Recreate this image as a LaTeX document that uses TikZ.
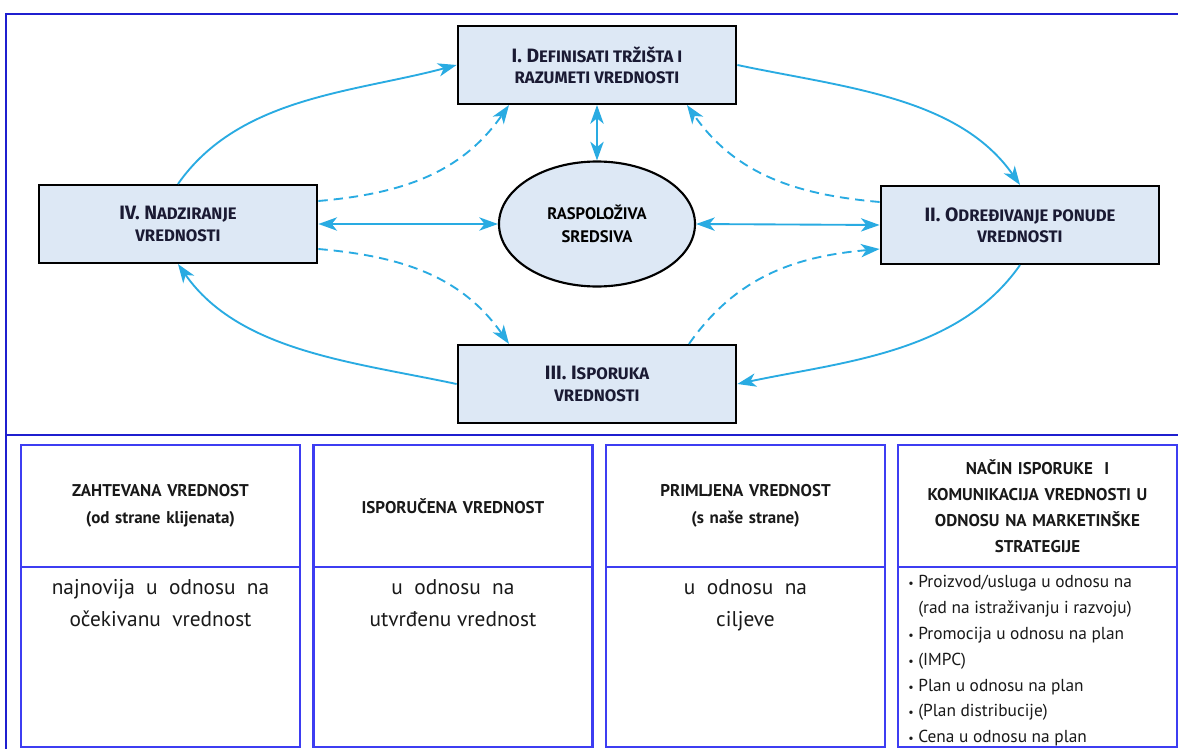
\documentclass[tikz,border=0pt]{standalone}
\usepackage{fontspec}
\setmainfont{PT Sans}
\newfontfamily\boxfont{Fira Sans}
\usepackage{tikz}
\usetikzlibrary{arrows.meta,shapes.geometric,calc,positioning}
\definecolor{arrowblue}{HTML}{29ABE2}
\definecolor{boxfill}{HTML}{DDE8F5}
\definecolor{frameblue}{HTML}{1F1FCF}
\definecolor{cellblue}{HTML}{3D3DF2}
\definecolor{inkblue}{HTML}{1A1A33}
\newcommand{\bigc}{\fontsize{14.5}{16}\selectfont}
\tikzstyle{stagebox}=[rectangle, draw=black, line width=1.6pt, fill=boxfill, minimum width=209pt, minimum height=58.5pt, inner sep=0pt, align=center, text=inkblue, font=\boxfont\bfseries\fontsize{12.5}{16}\selectfont]
\tikzstyle{pool}=[ellipse, draw=black, line width=1.6pt, fill=boxfill, minimum width=147pt, minimum height=93.75pt, inner sep=0pt, align=center, text=black, font=\bfseries\fontsize{12.5}{17}\selectfont]
\tikzstyle{flow}=[color=arrowblue, line width=1.4pt, ->]
\tikzstyle{feedback}=[flow, dash pattern=on 7pt off 4.5pt]
\tikzstyle{both}=[flow, <->]
\tikzstyle{frame}=[draw=frameblue, line width=2.2pt]
\tikzstyle{headcell}=[rectangle, draw=cellblue, line width=2pt, outer sep=0pt, minimum width=209.25pt, minimum height=91.5pt, text width=200pt, inner sep=0pt, align=center, text=black!90, font=\bfseries\fontsize{12.75}{20}\selectfont]
\tikzstyle{bodycell}=[rectangle, draw=cellblue, line width=2pt, outer sep=0pt, minimum width=209.25pt, minimum height=135pt]
\tikzstyle{bodytext}=[inner sep=0pt, align=center, text=black!90, font=\fontsize{16}{24}\selectfont]
\tikzstyle{listtext}=[inner sep=0pt, align=left, text=black!90, font=\fontsize{13}{19.4}\selectfont]
\newcommand{\stagebox}{\node[stagebox]}
\newcommand{\headcell}{\node[headcell, anchor=north]}

\begin{document}
\begin{tikzpicture}[x=0.75pt,y=0.75pt, >={Stealth[length=14pt,width=10pt,inset=4pt]}]
	\useasboundingbox (0,0) rectangle (1178,-749);
	\fill[white] (0,0) rectangle (1178,-749);
	%% the frame
	\draw[frame] (6,-749) -- (6,-14) -- (1178,-14);
	\draw[frame] (6,-435) -- (1178,-435);
	%% the stages
	\stagebox (n1) at (597,-65) {{\bigc I. D}EFINISATI TRŽIŠTA I\\RAZUMETI VREDNOSTI};
	\stagebox (n2) at (1020,-225) {{\bigc II. O}DREĐIVANJE PONUDE\\VREDNOSTI};
	\stagebox (n3) at (597,-384) {{\bigc III. I}SPORUKA\\VREDNOSTI};
	\stagebox (n4) at (178,-224) {{\bigc IV. N}ADZIRANJE\\VREDNOSTI};
	\node[pool] (res) at (597,-224) {RASPOLOŽIVA\\SREDSIVA};
	%% for the cycle
	\path[flow]
		(n4.north) edge[out=55,in=195,looseness=0.9] (n1.west)
		(n1.east) edge[out=-12,in=125,looseness=0.9] (n2.north)
		(n2.south) edge[out=-125,in=12,looseness=0.9] (n3.east)
		(n3.west) edge[out=168,in=-55,looseness=0.9] (n4.south)
		;
	%% dashed links
	\path[feedback]
		($(n4.east)+(0,23)$) edge[out=5,in=-125] ($(n1.south)+(-88,0)$)
		($(n2.west)+(0,23)$) edge[out=175,in=-55] ($(n1.south)+(90,0)$)
		($(n4.east)+(0,-25)$) edge[out=-5,in=125] ($(n3.north)+(-88,0)$)
		($(n3.north)+(92,0)$) edge[out=55,in=185] ($(n2.west)+(0,-24)$)
		;
	%% to and from the resources
	\path[both]
		(n1.south) edge (res.north)
		(n4.east) edge (res.west)
		(res.east) edge (n2.west)
		;
	%% the table below
	\headcell (h1) at (160.5,-445) {ZAHTEVANA VREDNOST\\(od strane klijenata)};
	\headcell (h2) at (453,-445) {ISPORUČENA VREDNOST};
	\headcell (h3) at (745.5,-445) {PRIMLJENA VREDNOST\\(s naše strane)};
	\headcell[font=\bfseries\fontsize{12.75}{19.5}\selectfont] (h4) at (1037.5,-445) {NAČIN ISPORUKE\ \ I\\KOMUNIKACIJA VREDNOSTI U\\ODNOSU NA MARKETINŠKE\\STRATEGIJE};
	\node[bodycell, below=0pt of h1] (b1) {};
	\node[bodycell, below=0pt of h2] (b2) {};
	\node[bodycell, below=0pt of h3] (b3) {};
	\node[bodycell, below=0pt of h4] (b4) {};
	\node[bodytext, anchor=north] (t1) at ($(b1.north)+(0,-12)$) {najnovija\ \ u\ \ odnosu\ \ na\\očekivanu\ \ vrednost};
	\node[bodytext, anchor=north] (t2) at ($(b2.north)+(0,-12)$) {u\ \ odnosu\ \ na\\utvrđenu vrednost};
	\node[bodytext, anchor=north] (t3) at ($(b3.north)+(0,-12)$) {u\ \ odnosu\ \ na\\ciljeve};
	\node[listtext, anchor=north west] (t4) at ($(b4.north west)+(10,-8)$) {%
		{\small\textbullet} Proizvod/usluga u odnosu na\\
		\phantom{{\small\textbullet} }(rad na istraživanju i razvoju)\\
		{\small\textbullet} Promocija u odnosu na plan\\
		{\small\textbullet} (IMPC)\\
		{\small\textbullet} Plan u odnosu na plan\\
		{\small\textbullet} (Plan distribucije)\\
		{\small\textbullet} Cena u odnosu na plan};
\end{tikzpicture}
\end{document}
